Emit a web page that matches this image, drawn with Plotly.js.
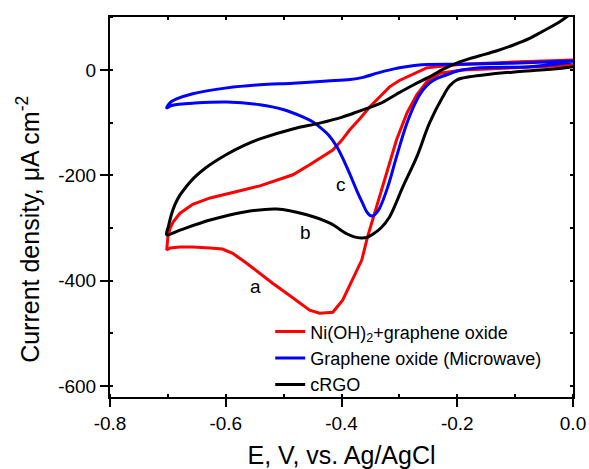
<!DOCTYPE html>
<html>
<head>
<meta charset="utf-8">
<script src="https://cdn.plot.ly/plotly-3.0.1.min.js"></script>
<style>html,body{margin:0;padding:0;background:#fff;}#chart{width:589px;height:469px;}</style>
</head>
<body>
<div id="chart"></div>
<script>
// cRGO (black)
const cRGO_E = [0.0, -0.023, -0.092, -0.144, -0.179, -0.201, -0.213, -0.225, -0.248, -0.270, -0.294, -0.317, -0.332, -0.346, -0.356, -0.366, -0.378, -0.391, -0.420, -0.460, -0.512, -0.570, -0.627, -0.679, -0.702, -0.699, -0.694, -0.688, -0.680, -0.670, -0.655, -0.635, -0.598, -0.570, -0.541, -0.484, -0.438, -0.400, -0.369, -0.334, -0.305, -0.275, -0.248, -0.225, -0.201, -0.180, -0.161, -0.130, -0.104, -0.075, -0.053, -0.025, 0.0];
const cRGO_J = [6, 3, -3, -8, -13, -19, -30, -51, -101, -165, -222, -279, -300, -312, -318, -319, -317, -311, -291, -275, -264, -270, -285, -304, -313, -297, -275, -256, -239, -224, -205, -186, -160, -144, -131, -112, -101, -90, -78, -64, -46, -28, -13, 1, 13, 21, 27, 37, 47, 60, 73, 90, 110];

// Graphene oxide (Microwave) (blue)
const GO_E = [0.0, -0.075, -0.161, -0.200, -0.218, -0.235, -0.248, -0.260, -0.270, -0.287, -0.305, -0.320, -0.334, -0.341, -0.346, -0.351, -0.356, -0.364, -0.374, -0.391, -0.408, -0.422, -0.438, -0.452, -0.467, -0.501, -0.541, -0.598, -0.657, -0.680, -0.695, -0.702, -0.696, -0.685, -0.657, -0.598, -0.541, -0.484, -0.425, -0.385, -0.363, -0.335, -0.305, -0.270, -0.191, -0.104, 0.0];
const GO_J = [15, 6, 4, -2, -9, -16, -25, -39, -57, -101, -165, -222, -262, -273, -277, -276, -270, -252, -228, -184, -146, -124, -108, -97, -89, -75, -66, -61, -63, -65, -68, -72, -62, -55, -45, -34, -28, -25, -21, -18, -14, -5, 3, 9, 11, 13, 17];

// Ni(OH)2 + graphene oxide (red)
const Ni_E = [0.0, -0.092, -0.191, -0.230, -0.253, -0.270, -0.287, -0.305, -0.322, -0.339, -0.355, -0.365, -0.381, -0.398, -0.415, -0.438, -0.455, -0.472, -0.495, -0.519, -0.541, -0.564, -0.588, -0.606, -0.627, -0.657, -0.679, -0.696, -0.702, -0.700, -0.696, -0.691, -0.679, -0.657, -0.627, -0.598, -0.570, -0.541, -0.512, -0.484, -0.455, -0.435, -0.415, -0.400, -0.386, -0.368, -0.351, -0.333, -0.317, -0.300, -0.287, -0.270, -0.253, -0.220, -0.191, -0.104, 0.0];
const Ni_J = [9, 4, 0, -6, -23, -47, -82, -133, -196, -260, -317, -361, -399, -437, -460, -462, -456, -443, -424, -405, -386, -367, -348, -340, -338, -336, -336, -338, -342, -317, -300, -289, -272, -255, -243, -236, -228, -220, -209, -199, -180, -166, -152, -134, -114, -92, -70, -50, -32, -20, -13, -4, 4, 8, 11, 15, 19];

const seriesNames = ['Ni(OH)<sub>2</sub>+graphene oxide', 'Graphene oxide (Microwave)', 'cRGO'];
const curveLabels = ['a', 'b', 'c'];
const labelE = [-0.548, -0.463, -0.401];
const labelJ = [-412, -308, -217];

const xTickVals = [-0.8, -0.6, -0.4, -0.2, 0.0];
const xTickText = ['-0.8', '-0.6', '-0.4', '-0.2', '0.0'];
const yTickVals = [-600, -400, -200, 0];
const yTickText = ['-600', '-400', '-200', '0'];

const font = 'Liberation Sans, Arial, sans-serif';
const traces = [
  {x: Ni_E, y: Ni_J, name: seriesNames[0], mode: 'lines', line: {color: '#ff0000', width: 3}},
  {x: GO_E, y: GO_J, name: seriesNames[1], mode: 'lines', line: {color: '#0000ff', width: 3, shape: 'spline', smoothing: 1}},
  {x: cRGO_E, y: cRGO_J, name: seriesNames[2], mode: 'lines', line: {color: '#000000', width: 3, shape: 'spline', smoothing: 1}},
  {x: [], y: [], xaxis: 'x2', yaxis: 'y2', showlegend: false, hoverinfo: 'skip'}
];

const xr = [-0.8, 0.0], yr = [-621, 100.6];
const layout = {
  width: 589, height: 469,
  margin: {l: 110, r: 16, t: 17, b: 72},
  paper_bgcolor: '#fff', plot_bgcolor: '#fff',
  font: {family: font, color: '#000'},
  showlegend: true,
  legend: {x: 0.346, y: 0.22, xanchor: 'left', yanchor: 'top', bgcolor: 'rgba(0,0,0,0)', font: {size: 18, family: font}, tracegroupgap: 0},
  xaxis: {
    range: xr, showline: true, linewidth: 2, linecolor: '#000', zeroline: false, showgrid: false,
    tickvals: xTickVals, ticktext: xTickText, ticks: 'outside', ticklen: 8, tickwidth: 2, tickcolor: '#000',
    tickfont: {size: 19, family: font},
    minor: {dtick: 0.1, ticks: 'inside', ticklen: 3, tickwidth: 2, tickcolor: '#000', showgrid: false},
    title: {text: 'E, V, vs. Ag/AgCl', font: {size: 25, family: font}, standoff: 14}
  },
  yaxis: {
    range: yr, showline: true, linewidth: 2, linecolor: '#000', zeroline: false, showgrid: false,
    tickvals: yTickVals, ticktext: yTickText, ticks: 'outside', ticklen: 8, tickwidth: 2, tickcolor: '#000',
    tickfont: {size: 19, family: font},
    minor: {dtick: 100, ticks: 'inside', ticklen: 3, tickwidth: 2, tickcolor: '#000', showgrid: false}
  },
  xaxis2: {
    range: xr, overlaying: 'x', side: 'top', showline: true, linewidth: 2, linecolor: '#000',
    zeroline: false, showgrid: false, showticklabels: false, dtick: 0.1, tick0: 0, ticks: 'inside', ticklen: 3, tickwidth: 2, tickcolor: '#000'
  },
  yaxis2: {
    range: yr, overlaying: 'y', side: 'right', showline: true, linewidth: 2, linecolor: '#000',
    zeroline: false, showgrid: false, showticklabels: false, dtick: 100, tick0: 0, ticks: 'inside', ticklen: 3, tickwidth: 2, tickcolor: '#000'
  },
  annotations: [
    {text: 'Current density, μA cm<sup>-2</sup>', xref: 'paper', yref: 'paper', x: -0.177, y: 0.44, xanchor: 'center', yanchor: 'middle', textangle: -90, showarrow: false, font: {size: 25, family: font}}
  ].concat(curveLabels.map((t, i) => ({text: t, x: labelE[i], y: labelJ[i], xref: 'x', yref: 'y', showarrow: false, font: {size: 19, family: font}})))
};

Plotly.newPlot('chart', traces, layout, {displayModeBar: false, staticPlot: true});
</script>
</body>
</html>
